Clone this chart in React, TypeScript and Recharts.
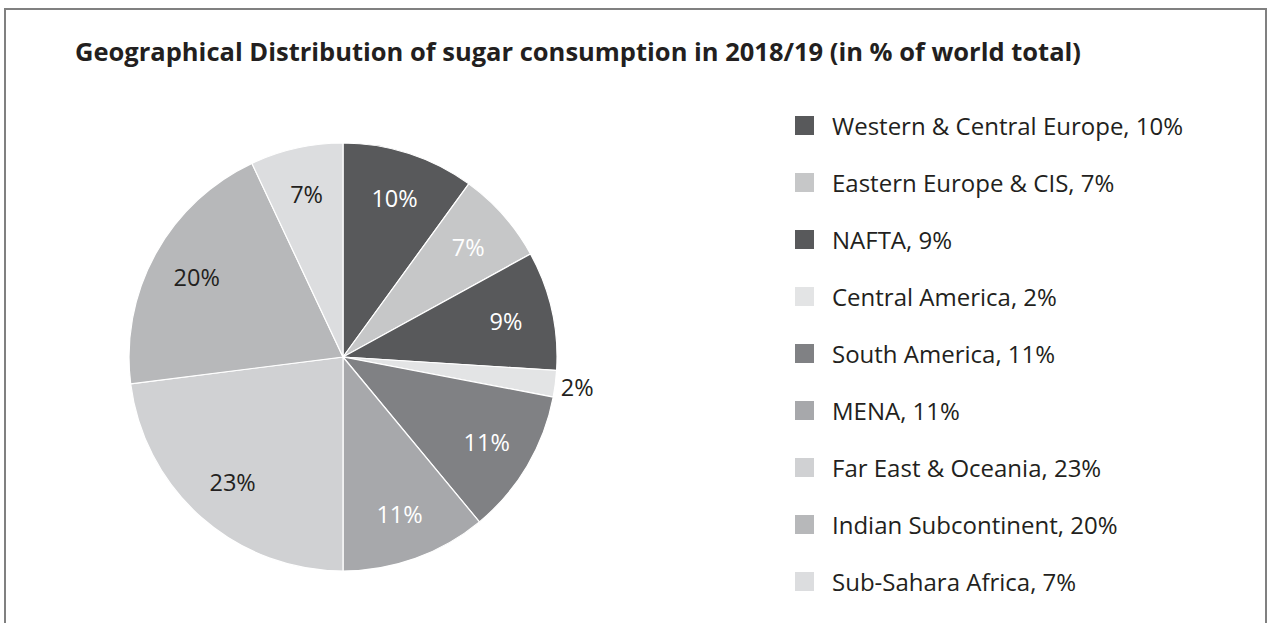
import { PieChart, Pie, Cell, Legend } from 'recharts';

const regions = [
  'Western & Central Europe',
  'Eastern Europe & CIS',
  'NAFTA',
  'Central America',
  'South America',
  'MENA',
  'Far East & Oceania',
  'Indian Subcontinent',
  'Sub-Sahara Africa',
];
const shares = [10, 7, 9, 2, 11, 11, 23, 20, 7];
const colors = ['#58595b', '#c6c7c8', '#58595b', '#e3e4e5', '#808184', '#a7a8ab', '#d0d1d3', '#b7b8ba', '#dcdddf'];
const labelInk = ['#ffffff', '#ffffff', '#ffffff', '#231f20', '#ffffff', '#ffffff', '#231f20', '#231f20', '#231f20'];

const FONT = '"Open Sans", "Noto Sans", sans-serif';
const RAD = Math.PI / 180;

const data = regions.map((name, i) => ({ name, value: shares[i] }));

const renderLabel = (props: any) => {
  const { cx, cy, midAngle, outerRadius, index, value } = props;
  // tiny slices get their label outside the pie
  const r = value < 5 ? outerRadius + 22 : outerRadius * 0.78;
  const x = cx + r * Math.cos(-midAngle * RAD);
  const y = cy + r * Math.sin(-midAngle * RAD);
  return (
    <text x={x} y={y} fill={value < 5 ? '#231f20' : labelInk[index]} textAnchor="middle" dominantBaseline="central" fontSize={23.5} fontFamily={FONT}>
      {value}%
    </text>
  );
};

const renderLegend = () => (
  <div style={{ fontFamily: FONT, fontSize: 24, color: '#231f20' }}>
    {data.map((d, i) => (
      <div key={d.name} style={{ display: 'flex', alignItems: 'center', height: 57 }}>
        <span style={{ display: 'inline-block', width: 19, height: 19, background: colors[i], marginRight: 18, flexShrink: 0 }} />
        <span style={{ whiteSpace: 'nowrap' }}>{`${d.name}, ${d.value}%`}</span>
      </div>
    ))}
  </div>
);

export default function App() {
  return (
    <div style={{ position: 'fixed', left: 0, top: 0, width: 1270, height: 623, background: '#fff', overflow: 'hidden' }}>
      <div style={{ position: 'absolute', left: 4, top: 8, width: 1259, height: 640, borderTop: '2px solid #808080', borderLeft: '2px solid #808080', borderRight: '2px solid #808080' }} />
      <div style={{ position: 'absolute', left: 75, top: 39, lineHeight: 1, fontFamily: FONT, fontWeight: 700, fontSize: 25.5, color: '#231f20', whiteSpace: 'nowrap' }}>
        Geographical Distribution of sugar consumption in 2018/19 (in % of world total)
      </div>
      <PieChart width={1270} height={623} margin={{ top: 0, right: 0, bottom: 0, left: 0 }} style={{ position: 'absolute', left: 0, top: 0 }}>
        <Pie
          data={data}
          dataKey="value"
          nameKey="name"
          cx={343}
          cy={357}
          outerRadius={214}
          startAngle={90}
          endAngle={-270}
          stroke="#ffffff"
          strokeWidth={1.2}
          labelLine={false}
          label={renderLabel}
          isAnimationActive={false}
        >
          {data.map((d, i) => (
            <Cell key={d.name} fill={colors[i]} />
          ))}
        </Pie>
        <Legend content={renderLegend} layout="vertical" verticalAlign="top" align="right" wrapperStyle={{ left: 795, top: 97, width: 460 }} />
      </PieChart>
    </div>
  );
}
